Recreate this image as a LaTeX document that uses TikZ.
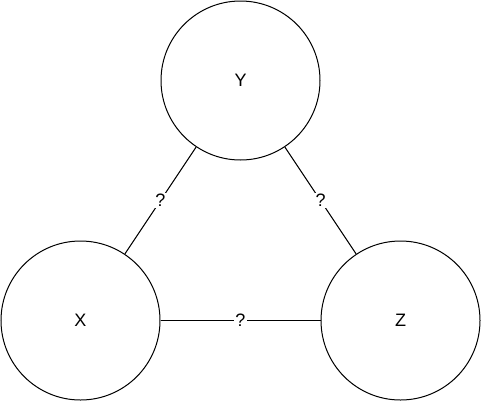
\documentclass[tikz,border=0pt]{standalone}
\usepackage{fontspec}
\setmainfont{Liberation Sans}
\begin{document}
\begin{tikzpicture}[x=1pt,y=-1pt,
  circ/.style={draw=black,line width=1pt,circle,minimum size=159pt,inner sep=0pt,font=\fontsize{18}{21}\selectfont},
  conn/.style={draw=black,line width=1pt},
  lbl/.style={fill=white,inner sep=1pt,font=\fontsize{18}{21}\selectfont}]
\useasboundingbox (0,0) rectangle (484,402);
\node[circ] (y) at (240.5,80.5) {Y};
\node[circ] (x) at (80.5,320.5) {X};
\node[circ] (z) at (400.5,320.5) {Z};
\draw[conn] (y) -- node[lbl] {?} (x);
\draw[conn] (y) -- node[lbl] {?} (z);
\draw[conn] (x) -- node[lbl] {?} (z);
\end{tikzpicture}
\end{document}
